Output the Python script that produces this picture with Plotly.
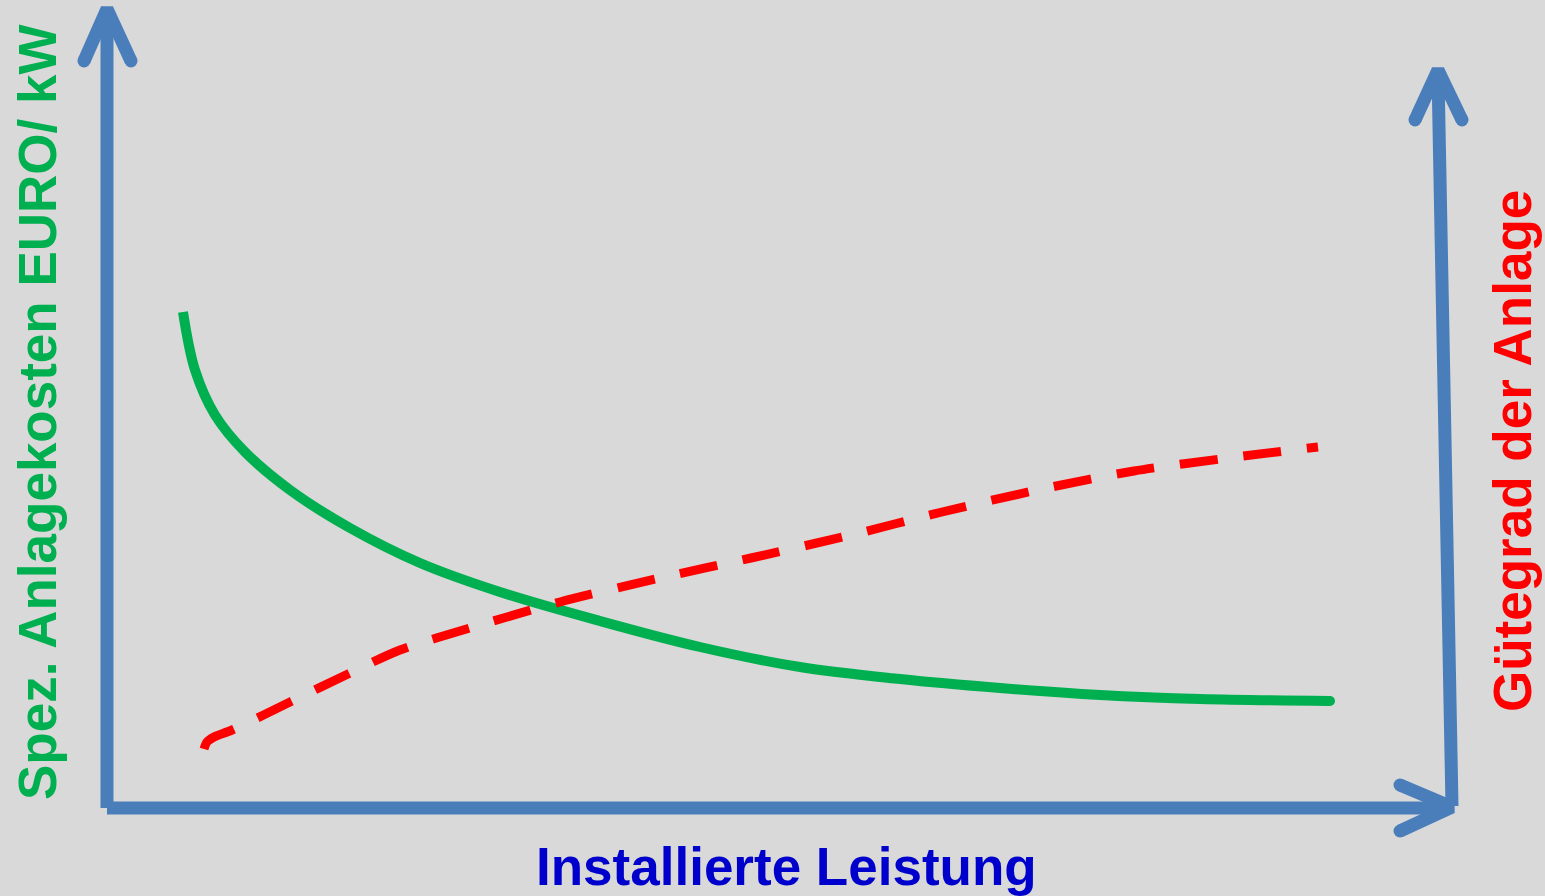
import plotly.graph_objects as go

# Horizontal axis: installed power; vertical axes: specific cost (left) and quality grade (right)
cost_x = [183, 195, 215, 245, 290, 350, 420, 500, 600, 700, 800, 900, 1000, 1100, 1200, 1330]
cost_y = [312, 370, 415, 452, 490, 528, 563, 592, 621, 647, 667, 679, 688, 695, 699, 701]

grade_x = [204, 207, 214, 232, 290, 348, 400, 470, 560, 660, 751, 851, 942, 1042, 1134,
           1236, 1318]
grade_y = [749, 742, 737, 730, 702, 674, 650, 628, 602, 578, 558, 535, 512, 489, 471,
           457, 447]

# Axis arrows: shaft followed by the two head strokes meeting at the tip
left_axis_x = [107, 107, None, 84, 107, 131]
left_axis_y = [808, 14, None, 61, 9, 61]
right_axis_x = [1452, 1438, None, 1415, 1438, 1462]
right_axis_y = [806, 74, None, 120, 70, 120]
bottom_axis_x = [107, 1448, None, 1400, 1452, 1400]
bottom_axis_y = [808, 808, None, 785, 807, 831]

BLUE = "#4a7ebb"
GREEN = "#00b050"
RED = "#ff0000"

fig = go.Figure()
for xs, ys in [(left_axis_x, left_axis_y), (right_axis_x, right_axis_y), (bottom_axis_x, bottom_axis_y)]:
    fig.add_trace(go.Scatter(x=xs, y=ys, mode="lines",
                             line=dict(color=BLUE, width=13),
                             hoverinfo="skip", showlegend=False))
    # rounded ends on the head strokes
    fig.add_trace(go.Scatter(x=[xs[3], xs[5]], y=[ys[3], ys[5]], mode="markers",
                             marker=dict(color=BLUE, size=13, line_width=0),
                             hoverinfo="skip", showlegend=False))

fig.add_trace(go.Scatter(x=cost_x, y=cost_y, mode="lines", line_shape="spline",
                         line=dict(color=GREEN, width=10, smoothing=1.0), showlegend=False))
fig.add_trace(go.Scatter(x=[cost_x[-1]], y=[cost_y[-1]], mode="markers",
                         marker=dict(color=GREEN, size=10, line_width=0),
                         hoverinfo="skip", showlegend=False))
fig.add_trace(go.Scatter(x=grade_x, y=grade_y, mode="lines", line_shape="spline",
                         line=dict(color=RED, width=9, dash="38px,26px", smoothing=0.8),
                         showlegend=False))

font = "Liberation Sans, Arial, sans-serif"
fig.add_annotation(x=37, y=412, text="<b>Spez. Anlagekosten EURO/ kW</b>", textangle=-90,
                   showarrow=False, font=dict(family=font, size=53, color=GREEN))
fig.add_annotation(x=1512, y=451, text="<b>Gütegrad der Anlage</b>", textangle=-90,
                   showarrow=False, font=dict(family=font, size=53, color=RED))
fig.add_annotation(x=786, y=866, text="<b>Installierte Leistung</b>",
                   showarrow=False, font=dict(family=font, size=53, color="#0000cc"))

fig.update_xaxes(range=[0, 1545], visible=False, fixedrange=True)
fig.update_yaxes(range=[896, 0], visible=False, fixedrange=True)
fig.update_layout(width=1545, height=896, margin=dict(l=0, r=0, t=0, b=0),
                  paper_bgcolor="#d9d9d9", plot_bgcolor="#d9d9d9")

fig.write_html("out.html", config={"displayModeBar": False})
